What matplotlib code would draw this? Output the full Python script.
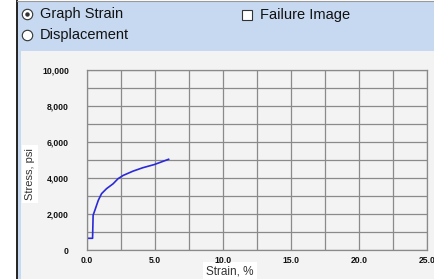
import matplotlib
matplotlib.use("Agg")
from matplotlib import pyplot as plt
from matplotlib.patches import Rectangle

# curve
strain = [0, 0, 0.41, 0.45, 0.58, 0.83, 1.07, 1.44, 1.92, 2.28, 2.65, 3.38, 4.1, 4.96, 5.57, 6.0]
stress = [0, 650, 650, 1930, 2210, 2760, 3130, 3410, 3680, 3960, 4140, 4380, 4570, 4750, 4920, 5040]

x_ticks = [0, 5, 10, 15, 20, 25]
x_labels = ["0.0", "5.0", "10.0", "15.0", "20.0", "25.0"]
y_ticks = [0, 2000, 4000, 6000, 8000, 10000]
y_labels = ["0", "2,000", "4,000", "6,000", "8,000", "10,000"]

W, H = 434, 279
plt.rcParams['font.family'] = ['Liberation Sans', 'DejaVu Sans']
fig = plt.figure(figsize=(W / 100, H / 100), dpi=100, facecolor="white")

# background / form widgets, drawn in pixel coords
bg = fig.add_axes([0, 0, 1, 1], zorder=0)
bg.set_xlim(0, W)
bg.set_ylim(H, 0)
bg.axis("off")
bg.add_patch(Rectangle((17, 1), W - 17, H, facecolor="#c6d9f1", edgecolor="none"))
bg.add_patch(Rectangle((21, 51), W - 21, H - 51, facecolor="#f3f3f3", edgecolor="none"))
bg.plot([16.5, 16.5], [1, H], color="#222222", lw=1.4)
bg.plot([16.5, W], [1, 1], color="#999999", lw=0.8)

bg.plot(27, 14, "o", ms=7.5, mfc="white", mec="#333333", mew=0.8)
bg.plot(27, 14, "o", ms=3.2, mfc="#333333", mec="none")
bg.plot(27, 35, "o", ms=7.5, mfc="white", mec="#333333", mew=0.8)
bg.plot(247, 15, "s", ms=7, mfc="white", mec="#333333", mew=0.8)
bg.text(40, 14, "Graph Strain", fontsize=10.5, va="center", ha="left", color="#111111")
bg.text(40, 35, "Displacement", fontsize=10.5, va="center", ha="left", color="#111111")
bg.text(260, 15, "Failure Image", fontsize=10.5, va="center", ha="left", color="#111111")

bg.text(30, 174, "Stress, psi", fontsize=8, rotation=90, va="center", ha="center",
        color="#333333", bbox=dict(facecolor="white", edgecolor="none", pad=2))
bg.text(230, 271, "Strain, %", fontsize=8.5, va="center", ha="center",
        color="#333333", bbox=dict(facecolor="white", edgecolor="none", pad=2))

# chart area
left, right, top, bottom = 87, 427, 70, 250
ax = fig.add_axes([left / W, 1 - bottom / H, (right - left) / W, (bottom - top) / H], zorder=1)
ax.set_facecolor("#f3f3f3")
ax.plot(strain, stress, color="#2a2ad8", lw=1.2)
ax.set_xlim(0, 25)
ax.set_ylim(0, 10000)
ax.set_xticks(x_ticks)
ax.set_xticklabels(x_labels)
ax.set_yticks(y_ticks)
ax.set_yticklabels(y_labels)
ax.set_xticks([2.5, 7.5, 12.5, 17.5, 22.5], minor=True)
ax.set_yticks([1000, 3000, 5000, 7000, 9000], minor=True)
ax.grid(True, which="both", color="#8a8a8a", lw=0.9)
ax.set_axisbelow(True)
ax.tick_params(which="both", length=0)
ax.tick_params(axis="y", pad=13, labelsize=6.2)
ax.tick_params(axis="x", pad=4, labelsize=6.2)
for lab in ax.get_xticklabels() + ax.get_yticklabels():
    lab.set_fontweight("bold")
    lab.set_color("#111111")
for s in ax.spines.values():
    s.set_color("#8a8a8a")
    s.set_linewidth(0.9)

plt.savefig("out.png", dpi=100)
